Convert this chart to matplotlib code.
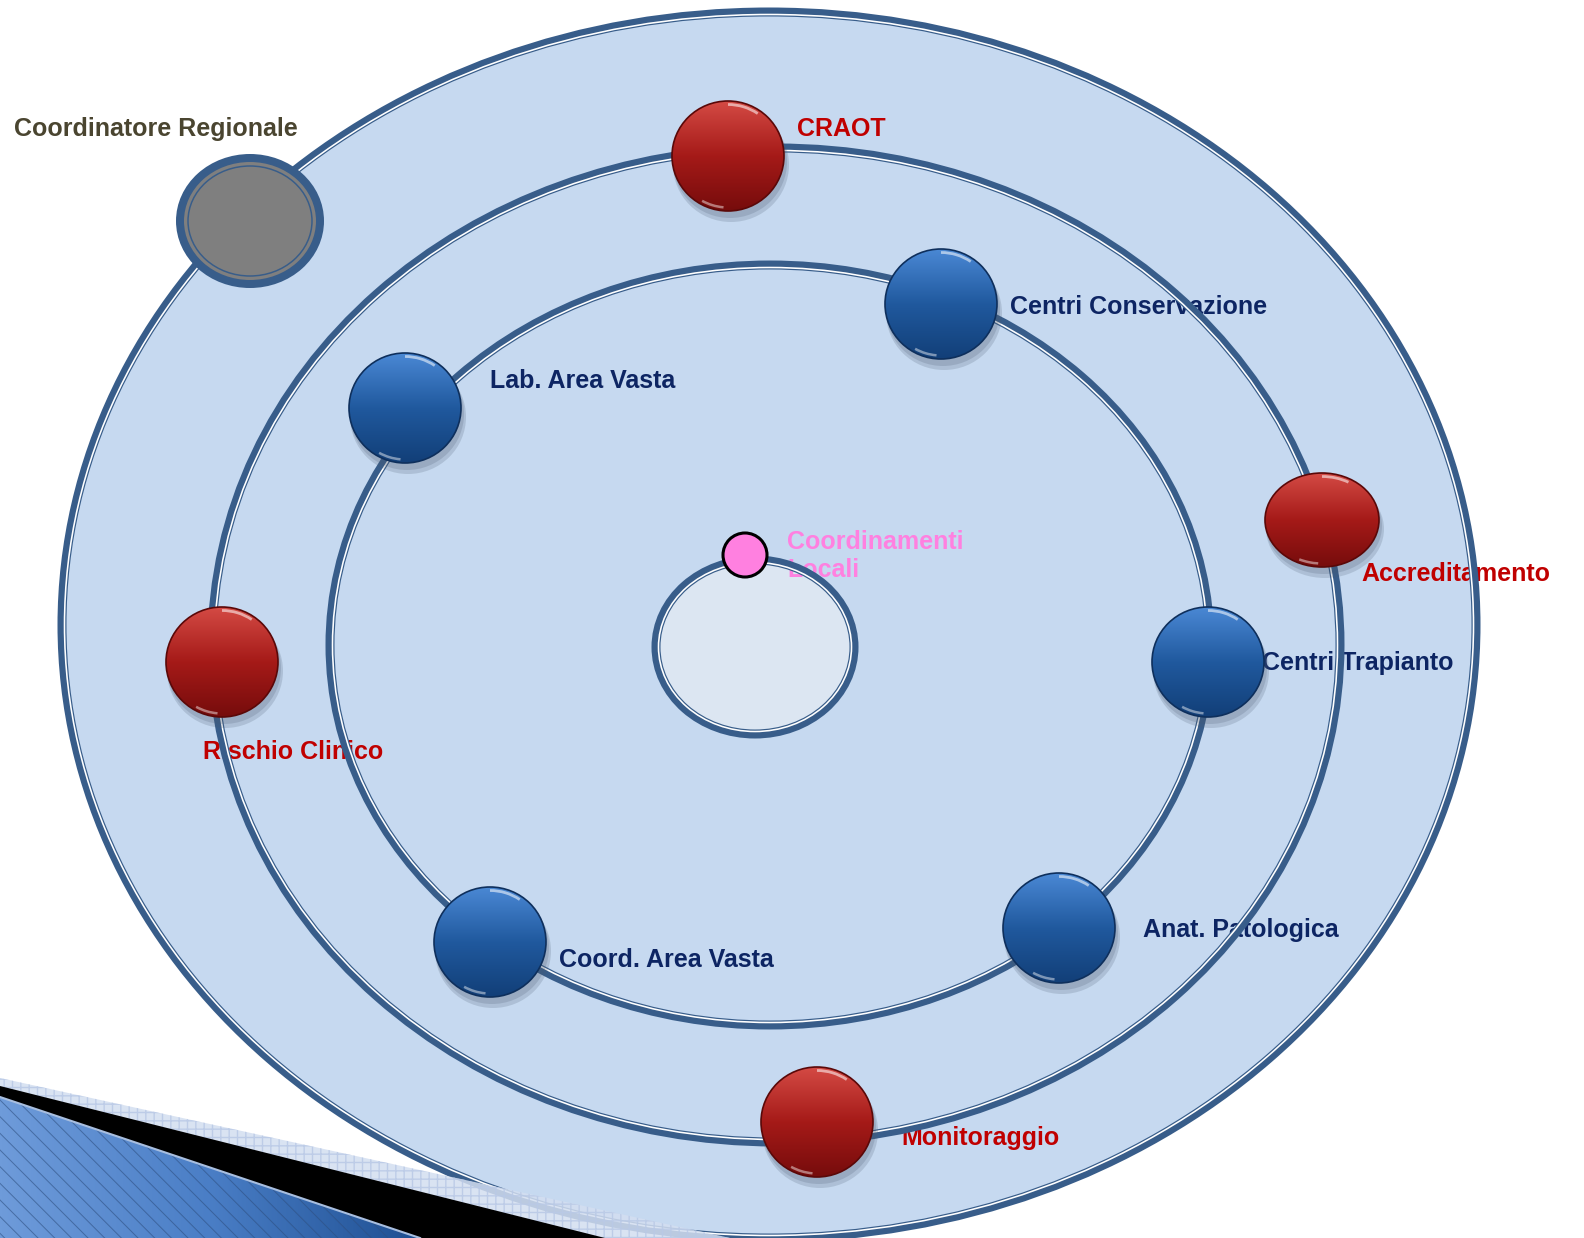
import numpy as np
import matplotlib
matplotlib.use('Agg')
from matplotlib import pyplot as plt
from matplotlib.patches import Ellipse, Polygon, Arc
from matplotlib.colors import LinearSegmentedColormap

# nodes of the diagram (name, group)
red_names = ['CRAOT', 'Accreditamento', 'Rischio Clinico', 'Monitoraggio']
red_xy = [(728, 156), (1322, 520), (222, 662), (817, 1122)]
red_label_xy = [(797, 129), (1361, 574), (203, 752), (901, 1138)]

blue_names = ['Centri Conservazione', 'Lab. Area Vasta', 'Centri Trapianto',
              'Anat. Patologica', 'Coord. Area Vasta']
blue_xy = [(941, 304), (405, 408), (1208, 662), (1059, 928), (490, 942)]
blue_label_xy = [(1010, 307), (490, 381), (1262, 663), (1143, 930), (559, 960)]

top_name = 'Coordinatore Regionale'
top_xy = (250, 221)
top_label_xy = (14, 129)

local_name = 'Coordinamenti\nLocali'
local_xy = (745, 555)
local_label_xy = (787, 545)

# orbits: center x, center y, width, height
orbits = [(769, 625, 1414, 1226), (776, 645, 1128, 994), (770, 645, 880, 760)]
core = (755, 647, 198, 174)

DARK = '#385D8A'
W, H = 1584, 1238
PX = 0.72  # points per pixel at dpi 100


def ring(ax, cx, cy, w, h, z):
    ax.add_patch(Ellipse((cx, cy), w, h, fc='none', ec=DARK, lw=9 * PX, zorder=z))
    ax.add_patch(Ellipse((cx, cy), w - 5, h - 5, fc='none', ec='white', lw=1.6 * PX, zorder=z))


def ball(ax, x, y, rx, ry, colors, edge, z=6):
    ax.add_patch(Ellipse((x + 3, y + 9), 2 * rx + 4, 2 * ry + 4, fc='#4a5a70',
                         alpha=0.2, ec='none', zorder=z))
    ax.add_patch(Ellipse((x + 2, y + 6), 2 * rx + 2, 2 * ry + 2, fc='#4a5a70',
                         alpha=0.2, ec='none', zorder=z))
    clip = Ellipse((x, y), 2 * rx, 2 * ry, fc='none', ec='none', transform=ax.transData)
    ax.add_patch(clip)
    cmap = LinearSegmentedColormap.from_list('b', colors)
    grad = np.linspace(0, 1, 200).reshape(-1, 1)
    im = ax.imshow(grad, extent=(x - rx, x + rx, y + ry, y - ry), cmap=cmap,
                   aspect='auto', zorder=z + 0.1, interpolation='bilinear')
    im.set_clip_path(clip)
    ax.add_patch(Ellipse((x, y), 2 * rx, 2 * ry, fc='none', ec=edge, lw=1.2, zorder=z + 0.2))
    ax.add_patch(Arc((x, y), 2 * rx - 7, 2 * ry - 7, theta1=270, theta2=305,
                     color='white', lw=2.0, alpha=0.55, zorder=z + 0.3))
    ax.add_patch(Arc((x, y), 2 * rx - 7, 2 * ry - 7, theta1=95, theta2=120,
                     color='white', lw=1.8, alpha=0.45, zorder=z + 0.3))


fig = plt.figure(figsize=(W / 100, H / 100), dpi=100)
ax = fig.add_axes([0, 0, 1, 1])
ax.set_xlim(0, W)
ax.set_ylim(H, 0)
ax.axis('off')

# filled outer disc and core
ox, oy, ow, oh = orbits[0]
ax.add_patch(Ellipse((ox, oy), ow, oh, fc='#C6D9F0', ec='none', zorder=1))
ax.add_patch(Ellipse((core[0], core[1]), core[2], core[3], fc='#DCE6F2', ec='none', zorder=1))

font = ['Liberation Sans', 'DejaVu Sans']
fs = 18
for name, (tx, ty) in zip(red_names, red_label_xy):
    ax.text(tx, ty, name, color='#C00000', fontsize=fs, fontweight='bold',
            family=font, va='center', ha='left', zorder=2)
for name, (tx, ty) in zip(blue_names, blue_label_xy):
    ax.text(tx, ty, name, color='#0D2563', fontsize=fs, fontweight='bold',
            family=font, va='center', ha='left', zorder=2)
ax.text(top_label_xy[0], top_label_xy[1], top_name, color='#4A4530', fontsize=fs,
        fontweight='bold', family=font, va='center', ha='left', zorder=2)
ax.text(local_label_xy[0], local_label_xy[1] - 15, local_name, color='#FF80E0',
        fontsize=fs, fontweight='bold', family=font, va='top', ha='left',
        linespacing=1.2, zorder=2)

# orbit rings
for cx, cy, w, h in orbits:
    ring(ax, cx, cy, w, h, 3)
ring(ax, core[0], core[1], core[2], core[3], 3)

# gray coordinator node
gx, gy = top_xy
ax.add_patch(Ellipse((gx, gy), 140, 126, fc='#7F7F7F', ec=DARK, lw=8 * PX, zorder=5))
ax.add_patch(Ellipse((gx, gy), 124, 110, fc='none', ec=DARK, lw=1.5 * PX, zorder=5))

# balls
for (bx, by), name in zip(red_xy, red_names):
    rx, ry = (57, 47) if name == 'Accreditamento' else (56, 55)
    ball(ax, bx, by, rx, ry, ['#D44A44', '#A51A18', '#760C0C'], '#5a0808')
for (bx, by) in blue_xy:
    ball(ax, bx, by, 56, 55, ['#4A88D4', '#20599E', '#123F78'], '#0e2f5c')

# pink local node
ax.add_patch(Ellipse(local_xy, 44, 44, fc='#FF80E0', ec='black', lw=2.2, zorder=7))

# decoration bottom-left
ax.add_patch(Polygon([(0, 1078), (730, H), (0, H)], closed=True, fc='#D3DEF0',
                     ec='#B9C9E6', hatch='++', lw=0, alpha=0.85, zorder=8))
ax.add_patch(Polygon([(0, 1086), (605, H), (0, H)], closed=True, fc='black',
                     ec='none', zorder=9))
blue_poly = Polygon([(0, 1097), (420, H), (0, H)], closed=True, fc='none', ec='none',
                    transform=ax.transData)
ax.add_patch(blue_poly)
cmap_d = LinearSegmentedColormap.from_list('d', ['#6E9BDA', '#4A7EC6', '#1E4F92'])
gx2 = np.linspace(0, 1, 300).reshape(1, -1)
im = ax.imshow(gx2, extent=(0, 420, H, 1097), cmap=cmap_d, aspect='auto', zorder=10)
im.set_clip_path(blue_poly)
plt.rcParams['hatch.linewidth'] = 0.7
ax.add_patch(Polygon([(0, 1097), (420, H), (0, H)], closed=True, fc='none',
                     ec='#2E4F80', hatch='\\\\', lw=0, alpha=0.6, zorder=11))
ax.plot([0, 420], [1097, H], color='#A8BEDF', lw=1.5, zorder=12)

fig.savefig('out.png', dpi=100)
